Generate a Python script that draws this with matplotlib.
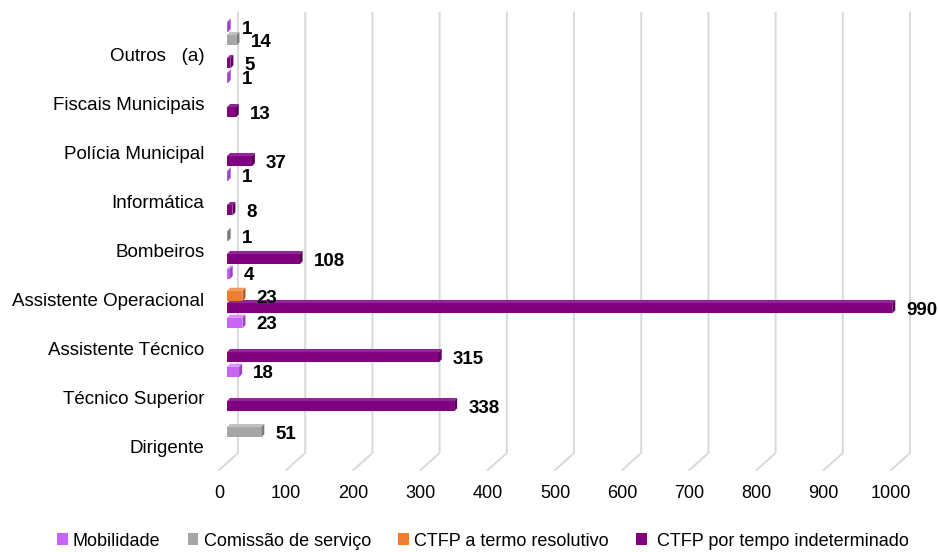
"""
Trabalhadores por carreira e modalidade de vinculo: barras horizontais com efeito 3D.
"""

import matplotlib
matplotlib.use('Agg')
import matplotlib.pyplot as plt
from matplotlib.patches import Polygon, Patch
import numpy as np

plt.rcParams['font.family'] = ['Liberation Sans', 'DejaVu Sans']

categorias = ['Dirigente', 'Técnico Superior', 'Assistente Técnico',
              'Assistente Operacional', 'Bombeiros', 'Informática',
              'Polícia Municipal', 'Fiscais Municipais', 'Outros   (a)']
mobilidade = [0, 0, 18, 23, 4, 0, 1, 0, 1]
indeterminado = [0, 338, 315, 990, 108, 8, 37, 13, 5]
termo_resolutivo = [0, 0, 0, 23, 0, 0, 0, 0, 0]
comissao_servico = [51, 0, 0, 0, 1, 0, 0, 0, 14]
outra_mobilidade = [0, 0, 0, 0, 0, 0, 0, 0, 1]
x_ticks = [0, 100, 200, 300, 400, 500, 600, 700, 800, 900, 1000]

# (valores, deslocamento no grupo, frente, topo, lado)
series = [
    (mobilidade, -0.49, '#C964F7', '#DA92FA', '#9A45C2'),
    (indeterminado, -0.19, '#800080', '#93259A', '#5C005C'),
    (termo_resolutivo, 0.06, '#ED7D31', '#F29A5C', '#B65E22'),
    (comissao_servico, 0.28, '#A6A6A6', '#C0C0C0', '#7A7A7A'),
    (outra_mobilidade, 0.55, '#C964F7', '#DA92FA', '#9A45C2'),
]

H = 0.21     # altura da face frontal
DX = 4.5     # profundidade em x (unidades de dados)
DY = 0.065   # profundidade em y

fig = plt.figure(figsize=(9.38, 5.52), dpi=100)
ax = fig.add_axes([214 / 938, 47 / 552, 721 / 938, 500 / 552])
ax.set_xlim(-19.35, 1053.6)
ax.set_ylim(-1.204, 9.0)

# grelha em perspectiva (parede + chao)
for v in x_ticks:
    ax.plot([v + 16.4, v + 16.4, v - 11.9], [8.84, -0.143, -0.49],
            color='#D9D9D9', lw=1.4, zorder=1, clip_on=False,
            solid_joinstyle='miter')
    ax.text(v - 11.9, -0.96, str(v), ha='center', va='center', fontsize=13)

y = np.arange(len(categorias))
for valores, off, c_front, c_top, c_side in series:
    for yi, v in zip(y, valores):
        if v == 0:
            continue
        yc = yi + off
        ax.barh(yc, v, height=H, left=0, color=c_front, zorder=3)
        top = yc + H / 2
        bot = yc - H / 2
        ax.add_patch(Polygon([(0, top), (v, top), (v + DX, top + DY), (DX, top + DY)],
                             closed=True, facecolor=c_top, edgecolor='none', zorder=3))
        ax.add_patch(Polygon([(v, bot), (v + DX, bot + DY), (v + DX, top + DY), (v, top)],
                             closed=True, facecolor=c_side, edgecolor='none', zorder=3))
        ax.text(v + 21, yc - 0.04, str(v), ha='left', va='center',
                fontsize=13.5, fontweight='bold', zorder=4)

ax.set_yticks(y)
ax.set_yticklabels(categorias, fontsize=13.5)
ax.tick_params(axis='y', length=0, pad=7)
ax.set_xticks([])
for s in ax.spines.values():
    s.set_visible(False)

handles = [Patch(facecolor='#C964F7', label='Mobilidade'),
           Patch(facecolor='#A6A6A6', label='Comissão de serviço'),
           Patch(facecolor='#ED7D31', label='CTFP a termo resolutivo'),
           Patch(facecolor='#800080', label=' CTFP por tempo indeterminado')]
fig.legend(handles=handles, loc='center', bbox_to_anchor=(483 / 938, 1 - 541 / 552),
           ncol=4, frameon=False, fontsize=13, handlelength=0.6, handleheight=0.6,
           handletextpad=0.3, columnspacing=1.5)

plt.savefig('out.png', dpi=100)
plt.close()
